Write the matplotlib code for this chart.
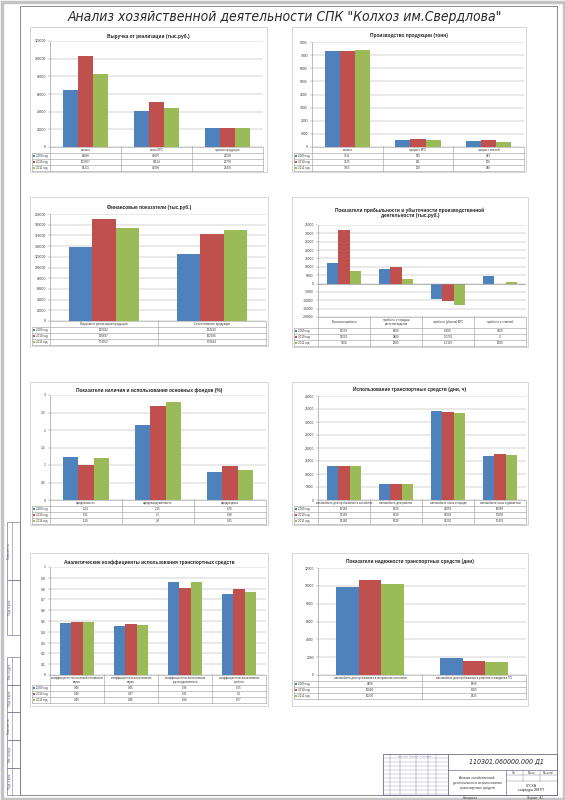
import matplotlib
matplotlib.use('Agg')
import matplotlib.pyplot as plt
from matplotlib.patches import Rectangle
import numpy as np

plt.rcParams['font.family'] = ['Liberation Sans', 'DejaVu Sans']

# ---------------- data ----------------
years = ['2009 год', '2010 год', '2011 год']
colors = ['#4F81BD', '#C0504D', '#9BBB59']

c1_title = 'Выручка от реализации (тыс.руб.)'
c1_cats = ['молоко', 'мясо КРС', 'прочая продукция']
c1_2009 = [64846, 40897, 21595]
c1_2010 = [103567, 51114, 21756]
c1_2011 = [82135, 43898, 21476]

c2_title = 'Производство продукции (тонн)'
c2_cats = ['молоко', 'прирост КРС', 'прирост свиней']
c2_2009 = [7311, 560, 483]
c2_2010 = [7325, 611, 506]
c2_2011 = [7365, 508, 380]

c3_title = 'Финансовые показатели (тыс.руб.)'
c3_cats = ['Выручка от реализации продукции', 'Себестоимость продукции']
c3_2009 = [139012, 124410]
c3_2010 = [190847, 162496]
c3_2011 = [174562, 170834]

c4_title = 'Показатели прибыльности и убыточности производственной\nдеятельности (тыс.руб.)'
c4_cats = ['Валовая прибыль', 'прибыль от продаж\nрастениеводства', 'прибыль (убыток) КРС', 'прибыль от свиней']
c4_2009 = [12500, 8600, -9200, 4700]
c4_2010 = [32200, 9800, -10700, 0]
c4_2011 = [7400, 2500, -13100, 1200]

c5_title = 'Показатели наличия и использования основных фондов (%)'
c5_cats = ['фондоемкость', 'фондовооруженность', 'фондоотдача']
c5_2009 = [1.24, 2.15, 0.79]
c5_2010 = [1.01, 2.7, 0.98]
c5_2011 = [1.19, 2.8, 0.85]

c6_title = 'Использование транспортных средств (дни, ч)'
c6_cats = ['автомобиле-дни пребывания в хозяйстве', 'автомобиле-дни работы',
           'автомобиле-часы в наряде', 'автомобиле-часы в движении']
c6_2009 = [13160, 6330, 34050, 16960]
c6_2010 = [13160, 6330, 33920, 17850]
c6_2011 = [13160, 6330, 33290, 17470]

c7_title = 'Аналитические коэффициенты использования транспортных средств'
c7_cats = ['коэффициент технической готовности\nпарка', 'коэффициент использования\nпарка',
           'коэффициент использования\nгрузоподъемности', 'коэффициент использования\nпробега']
c7_2009 = [0.48, 0.45, 0.86, 0.75]
c7_2010 = [0.49, 0.47, 0.81, 0.8]
c7_2011 = [0.49, 0.46, 0.86, 0.77]

c8_title = 'Показатели надежности транспортных средств (дни)'
c8_cats = ['автомобиле-дни пребывания в исправном состоянии', 'автомобиле-дни пребывания в ремонте и ожидании ТО']
c8_2009 = [9890, 1890]
c8_2010 = [10640, 1585]
c8_2011 = [10230, 1435]

main_title = 'Анализ хозяйственной деятельности СПК "Колхоз им.Свердлова"'

# ---------------- figure ----------------
W, H = 565, 800
fig = plt.figure(figsize=(W / 100, H / 100), dpi=100)
fig.patch.set_facecolor('white')

ov = fig.add_axes([0, 0, 1, 1], zorder=5)
ov.set_xlim(0, W)
ov.set_ylim(H, 0)
ov.axis('off')
ov.patch.set_alpha(0)


def fmt(v):
    if float(v).is_integer():
        return str(int(v))
    return ('%g' % v).replace('.', ',')


def px_axes(x0, y0, x1, y1):
    return fig.add_axes([x0 / W, 1 - y1 / H, (x1 - x0) / W, (y1 - y0) / H], zorder=2)


def chart(box, plot, title, cats, series, yticks, title_y, hh=6, rh=6, tfs=3.4):
    bx0, by0, bx1, by1 = box
    pl, pt, pr, pb = plot
    ov.add_patch(Rectangle((bx0, by0), bx1 - bx0, by1 - by0, fill=False, ec='#cfcfcf', lw=0.6))
    ov.text((bx0 + bx1) / 2, title_y, title, ha='center', va='center', fontsize=tfs,
            fontweight='bold', color='#222222', linespacing=1.1)
    ax = px_axes(pl, pt, pr, pb)
    n = len(cats)
    x = np.arange(n)
    w = 0.215
    for j, s in enumerate(series):
        ax.bar(x + (j - 1) * w, s, w, color=colors[j], edgecolor='none', zorder=3)
    ax.set_xlim(-0.5, n - 0.5)
    ax.set_ylim(yticks[0], yticks[-1])
    ax.set_yticks(yticks)
    ax.set_yticklabels([fmt(t) for t in yticks])
    ax.tick_params(axis='y', labelsize=2.4, length=1.5, width=0.3, colors='#8a8a8a',
                   labelcolor='#333333', pad=1.5)
    ax.set_xticks([])
    ax.grid(axis='y', color='#a6a6a6', lw=0.35, zorder=0)
    for sp in ['top', 'right', 'bottom']:
        ax.spines[sp].set_visible(False)
    ax.spines['left'].set_color('#8a8a8a')
    ax.spines['left'].set_linewidth(0.4)
    ax.axhline(0, color='#8a8a8a', lw=0.4, zorder=4)
    ax.patch.set_alpha(0)
    # data table
    kl = bx0 + 2
    lc = '#9a9a9a'
    tb = pb + hh + 3 * rh
    ov.plot([pl, pr], [pb, pb], color=lc, lw=0.4)
    ov.plot([pl, pr], [pb + hh, pb + hh], color=lc, lw=0.4)
    ov.plot([kl, pl], [pb + hh, pb + hh], color=lc, lw=0.4)
    for r in range(1, 4):
        ov.plot([kl, pr], [pb + hh + r * rh, pb + hh + r * rh], color=lc, lw=0.4)
    ov.plot([kl, kl], [pb + hh, tb], color=lc, lw=0.4)
    cw = (pr - pl) / n
    for i in range(n + 1):
        ov.plot([pl + i * cw, pl + i * cw], [pb - (1.5 if 0 < i < n else 0), tb], color=lc, lw=0.4)
    for i, c in enumerate(cats):
        ov.text(pl + (i + 0.5) * cw, pb + hh / 2, c, ha='center', va='center', fontsize=2.1,
                color='#333333', linespacing=1.0)
    for j, s in enumerate(series):
        yc = pb + hh + (j + 0.5) * rh
        ov.add_patch(Rectangle((kl + 1, yc - 1), 2, 2, color=colors[j], lw=0))
        ov.text(kl + 4, yc, years[j], ha='left', va='center', fontsize=2.1, color='#333333')
        for i, v in enumerate(s):
            ov.text(pl + (i + 0.5) * cw, yc, fmt(v), ha='center', va='center', fontsize=2.1,
                    color='#333333')
    return ax


chart((30, 27, 267, 172), (50, 41, 263, 147), c1_title, c1_cats, [c1_2009, c1_2010, c1_2011],
      list(range(0, 120001, 20000)), 36)
chart((292, 27, 526, 172), (312, 42, 524, 147), c2_title, c2_cats, [c2_2009, c2_2010, c2_2011],
      list(range(0, 8001, 1000)), 36)
chart((30, 197, 268, 346), (50, 214, 266, 321), c3_title, c3_cats, [c3_2009, c3_2010, c3_2011],
      list(range(0, 200001, 20000)), 207)
chart((292, 197, 528, 347), (318, 225, 526, 317), c4_title, c4_cats, [c4_2009, c4_2010, c4_2011],
      list(range(-20000, 35001, 5000)), 213, hh=11)
chart((30, 382, 268, 525), (50, 395, 266, 500), c5_title, c5_cats, [c5_2009, c5_2010, c5_2011],
      [0, 0.5, 1, 1.5, 2, 2.5, 3], 390)
chart((292, 382, 528, 525), (318, 396, 526, 500), c6_title, c6_cats, [c6_2009, c6_2010, c6_2011],
      list(range(0, 40001, 5000)), 390)
chart((30, 553, 268, 706), (50, 567, 266, 675), c7_title, c7_cats, [c7_2009, c7_2010, c7_2011],
      [0, 0.1, 0.2, 0.3, 0.4, 0.5, 0.6, 0.7, 0.8, 0.9, 1], 562, hh=10)
chart((292, 553, 528, 706), (318, 568, 526, 675), c8_title, c8_cats, [c8_2009, c8_2010, c8_2011],
      list(range(0, 12001, 2000)), 562)

# ---------------- sheet frame ----------------
ov.add_patch(Rectangle((1.5, 1.5), W - 3, H - 3, fill=False, ec='#c4c4c4', lw=2.5))
ov.add_patch(Rectangle((20, 6), 537, 789, fill=False, ec='#8c8c8c', lw=0.7))
ov.text(285, 17.5, main_title, ha='center', va='center', fontsize=10, style='italic',
        fontstretch='condensed', family=['DejaVu Sans'], color='#2a2a2a')

# left stamp strip
fc = '#7a7a9a'
strip_boxes = [(522, 580), (580, 635), (657, 685), (685, 712), (712, 740), (740, 768), (768, 795)]
strip_labels = ['Взам. инв. №', 'Подп. и дата', 'Инв. № дубл.', 'Подп. и дата', 'Взам. инв. №', 'Инв. № подл.', 'Подп. и дата']
for (a, b), t in zip(strip_boxes, strip_labels):
    ov.add_patch(Rectangle((7, a), 13, b - a, fill=False, ec=fc, lw=0.5))
    ov.plot([12, 12], [a, b], color=fc, lw=0.4)
    ov.text(9.5, (a + b) / 2, t, rotation=90, ha='center', va='center', fontsize=1.8, color='#555577')

# title block
tx0, ty0, tx1, ty1 = 383, 754, 557, 795
ov.add_patch(Rectangle((tx0, ty0), tx1 - tx0, ty1 - ty0, fill=False, ec='#6c6c8c', lw=0.6))
for xv in [390, 400, 416, 428, 436]:
    ov.plot([xv, xv], [ty0, ty1], color='#8888a8', lw=0.35)
ov.plot([448, 448], [ty0, ty1], color='#6c6c8c', lw=0.6)
for yv in range(ty0 + 4, ty1, 4):
    ov.plot([tx0, 448], [yv, yv], color='#9999b5', lw=0.3)
ov.plot([448, tx1], [770, 770], color='#6c6c8c', lw=0.5)
ov.plot([506, 506], [770, ty1], color='#6c6c8c', lw=0.5)
ov.plot([506, tx1], [775, 775], color='#8888a8', lw=0.35)
ov.plot([506, tx1], [781, 781], color='#8888a8', lw=0.35)
for xv in [523, 540]:
    ov.plot([xv, xv], [770, 781], color='#8888a8', lw=0.35)
ov.text(506, 762, '110301.060000.000 Д1', ha='center', va='center', fontsize=5, style='italic',
        fontstretch='condensed', family=['DejaVu Sans'], color='#222222')
ov.text(477, 783, 'Анализ хозяйственной\nдеятельности и использования\nтранспортных средств',
        ha='center', va='center', fontsize=2.4, color='#333333', linespacing=1.3)
ov.text(531, 788, 'ЧГСХА\nкафедра ЭМТП', ha='center', va='center', fontsize=2.6, color='#333333')
for xv, t in [(514, 'Лит.'), (531, 'Масса'), (548, 'Масштаб')]:
    ov.text(xv, 772.5, t, ha='center', va='center', fontsize=1.8, color='#444444')
ov.text(398, 756, 'Изм. Лист  № докум.  Подп. Дата', ha='left', va='center', fontsize=1.5, color='#555577')
ov.text(470, 797.5, 'Копировал', ha='center', va='center', fontsize=2.2, color='#444444')
ov.text(535, 797.5, 'Формат  А1', ha='center', va='center', fontsize=2.2, color='#444444')

fig.savefig('out.png', dpi=100, facecolor='white')
